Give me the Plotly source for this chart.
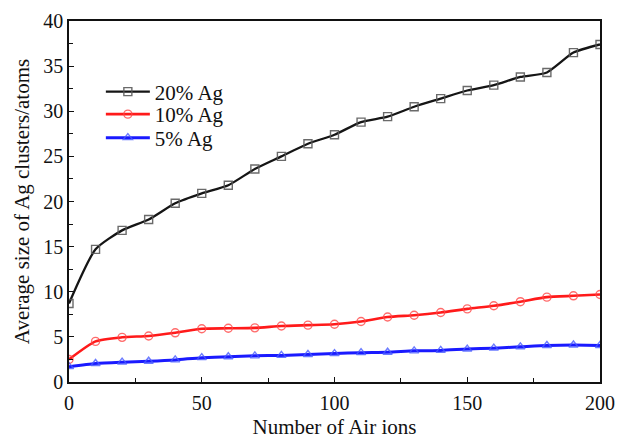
import plotly.graph_objects as go

air_ions = [0, 10, 20, 30, 40, 50, 60, 70, 80, 90, 100, 110, 120, 130, 140, 150, 160, 170, 180, 190, 200]
ag20 = [8.7, 14.7, 16.8, 18.0, 19.8, 20.9, 21.8, 23.6, 25.0, 26.4, 27.4, 28.8, 29.4, 30.5, 31.4, 32.3, 32.9, 33.8, 34.3, 36.5, 37.4]
ag10 = [2.5, 4.5, 4.95, 5.1, 5.45, 5.9, 5.95, 6.0, 6.2, 6.3, 6.4, 6.7, 7.2, 7.4, 7.7, 8.1, 8.45, 8.9, 9.4, 9.55, 9.7]
ag5 = [1.7, 2.05, 2.2, 2.3, 2.45, 2.7, 2.8, 2.9, 2.95, 3.05, 3.15, 3.25, 3.3, 3.45, 3.5, 3.65, 3.75, 3.9, 4.05, 4.1, 4.05]

series = [
    ("20% Ag", ag20, "#151515", "square-open", "rgba(90,90,90,0.9)", 2.3, "legend"),
    ("10% Ag", ag10, "#ff1a1a", "circle-open", "rgba(255,70,70,0.8)", 2.6, "legend2"),
    ("5% Ag", ag5, "#1a1aff", "triangle-up-open", "rgba(70,90,255,0.8)", 3.0, "legend3"),
]

FAM = "Liberation Serif"

fig = go.Figure()
for name, ys, col, sym, mcol, lw, leg in series:
    fig.add_trace(go.Scatter(
        x=air_ions, y=ys, name=name, mode="lines+markers", legend=leg,
        line=dict(color=col, width=lw, shape="spline", smoothing=0.6),
        marker=dict(symbol=sym, size=8, color=mcol, line=dict(width=1.4, color=mcol)),
    ))

legend_common = dict(x=0.060, xanchor="left", yanchor="middle",
                     bgcolor="rgba(0,0,0,0)", font=dict(family=FAM, size=21, color="#111"),
                     itemwidth=44, borderwidth=0)
fig.update_layout(
    width=618, height=439,
    margin=dict(l=69, r=18, t=21, b=57, autoexpand=False),
    paper_bgcolor="white", plot_bgcolor="white",
    font=dict(family=FAM, size=20, color="#111"),
    showlegend=True,
    legend=dict(y=(382 - 92) / 361, **legend_common),
    legend2=dict(y=(382 - 114.5) / 361, **legend_common),
    legend3=dict(y=(382 - 138) / 361, **legend_common),
)
fig.update_xaxes(
    range=[0, 200], tickvals=[0, 50, 100, 150, 200], automargin=False,
    showline=True, linecolor="#111", linewidth=1.5, mirror=True,
    ticks="inside", ticklen=5, tickwidth=1.2, tickcolor="#111",
    minor=dict(tickvals=[25, 75, 125, 175], ticks="inside", ticklen=4, tickcolor="#111", tickwidth=1.2),
    showgrid=False, zeroline=False, ticklabelstandoff=2,
    tickfont=dict(family=FAM, size=20),
    title=dict(text="Number of Air ions", font=dict(family=FAM, size=21), standoff=8),
)
fig.update_yaxes(
    range=[0, 40], tickvals=[0, 5, 10, 15, 20, 25, 30, 35, 40], automargin=False,
    showline=True, linecolor="#111", linewidth=1.5, mirror=True,
    ticks="inside", ticklen=5, tickwidth=1.2, tickcolor="#111",
    minor=dict(tickvals=[2.5, 7.5, 12.5, 17.5, 22.5, 27.5, 32.5, 37.5], ticks="inside", ticklen=4, tickcolor="#111", tickwidth=1.2),
    showgrid=False, zeroline=False,
    tickfont=dict(family=FAM, size=20),
    title=dict(text="Average size of Ag clusters/atoms", font=dict(family=FAM, size=21), standoff=8),
)
fig.write_html("out.html")
